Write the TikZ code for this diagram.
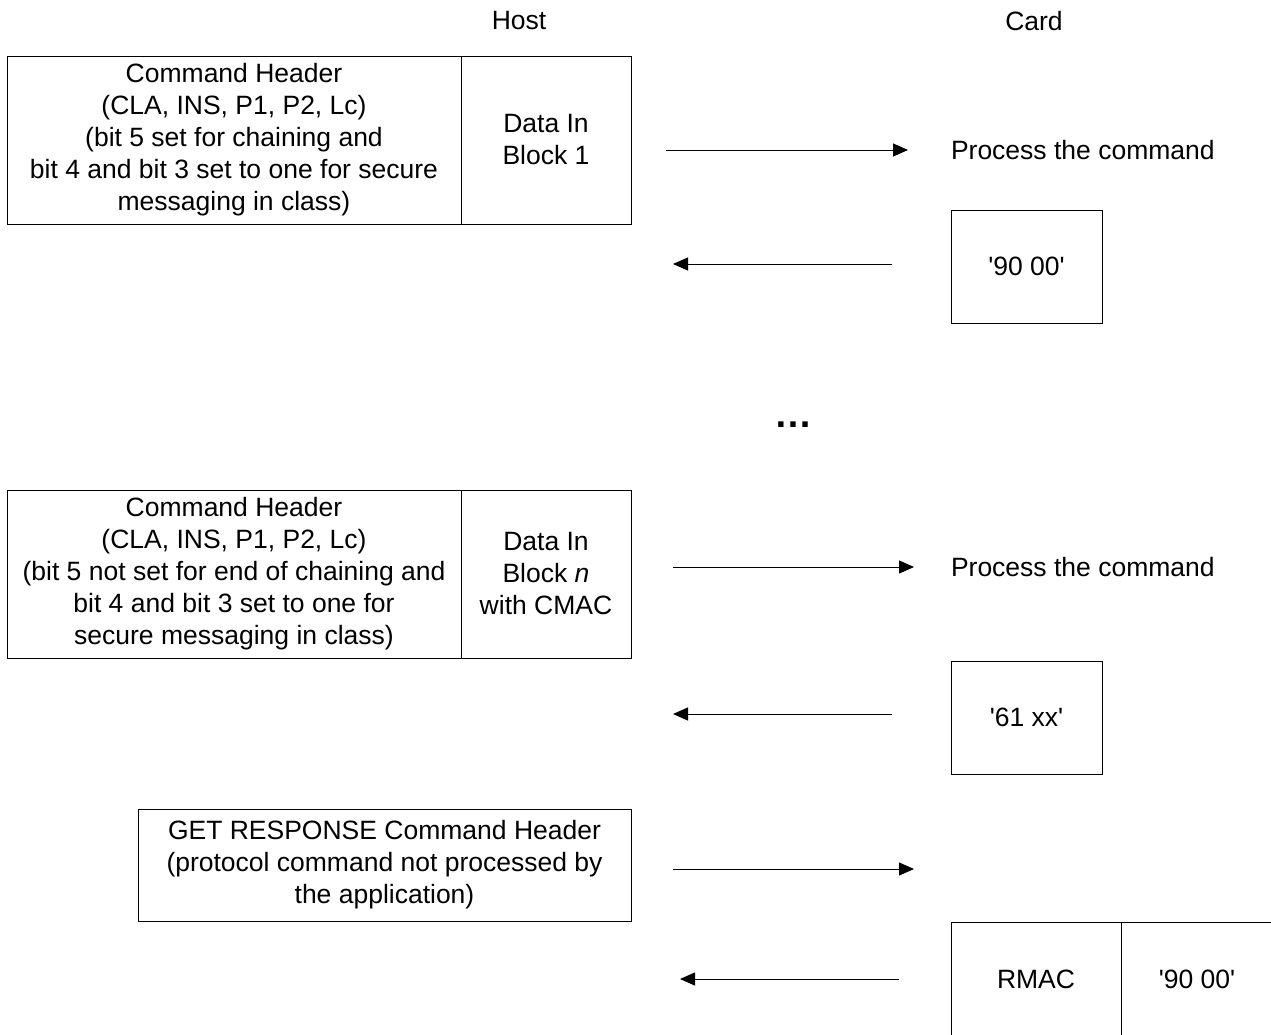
\documentclass[tikz,border=0pt]{standalone}
\usepackage{fontspec}
\newfontfamily\arialf{Liberation Sans}
\usetikzlibrary{arrows.meta}
\begin{document}
\begin{tikzpicture}[x=1pt,y=-1pt,
  every node/.style={inner sep=0pt, outer sep=0pt},
  body/.style={font=\arialf\fontsize{26.5}{32}\selectfont, align=center},
  cell/.style={draw, line width=1pt, body},
  msg/.style={line width=1pt, -{Triangle[length=15pt,width=13pt]}},
  side/.style={font=\arialf\fontsize{26.5}{30}\selectfont},
  action/.style={font=\arialf\fontsize{26.5}{30}\selectfont, anchor=west}]
\useasboundingbox (0,0) rectangle (1271,1034);
\clip (0,0) rectangle (1271,1034);

% column headings
\node[side] (host) at (519,21) {Host};
\node[side] (card) at (1034,21) {Card};

% first chained command and its status
\node[cell, minimum width=454pt, minimum height=168pt] (hdr1) at (234,140)
  {Command Header\\(CLA, INS, P1, P2, Lc)\\(bit 5 set for chaining and\\bit 4 and bit 3 set to one for secure\\messaging in class)};
\node[cell, minimum width=170pt, minimum height=168pt] (dat1) at (546,140)
  {Data In\\Block 1};
\node[action] (proc1) at (951,150) {Process the command};
\node[cell, minimum width=151pt, minimum height=113pt] (sw1) at (1026.5,266.5) {'90 00'};
\coordinate (c1a) at (666,150);
\coordinate (c1b) at (908,150);
\coordinate (c2a) at (892,264);
\coordinate (c2b) at (673,264);
\draw[msg] (c1a) -- (c1b);
\draw[msg] (c2a) -- (c2b);

% more blocks follow
\node[font=\arialf\bfseries\fontsize{38}{38}\selectfont] (more) at (793,425) {…};

% last block of the chain
\node[cell, minimum width=454pt, minimum height=168pt] (hdr2) at (234,574)
  {Command Header\\(CLA, INS, P1, P2, Lc)\\(bit 5 not set for end of chaining and\\bit 4 and bit 3 set to one for\\secure messaging in class)};
\node[cell, minimum width=170pt, minimum height=168pt] (dat2) at (546,574)
  {Data In\\Block \textit{n}\\with CMAC};
\node[action] (proc2) at (951,567) {Process the command};
\node[cell, minimum width=151pt, minimum height=113pt] (sw2) at (1026.5,717.5) {'61 xx'};
\coordinate (c3a) at (673,567);
\coordinate (c3b) at (914,567);
\coordinate (c4a) at (892,714);
\coordinate (c4b) at (673,714);
\draw[msg] (c3a) -- (c3b);
\draw[msg] (c4a) -- (c4b);

% GET RESPONSE exchange
\node[cell, minimum width=493pt, minimum height=112pt] (getr) at (384.5,865)
  {GET RESPONSE Command Header\\(protocol command not processed by\\the application)};
\node[cell, minimum width=170pt, minimum height=114pt] (rmac) at (1036,979) {RMAC};
\node[cell, minimum width=152pt, minimum height=114pt] (sw3) at (1197,979) {'90 00'};
\coordinate (c5a) at (673,869);
\coordinate (c5b) at (914,869);
\coordinate (c6a) at (899,979);
\coordinate (c6b) at (680,979);
\draw[msg] (c5a) -- (c5b);
\draw[msg] (c6a) -- (c6b);
\end{tikzpicture}
\end{document}
